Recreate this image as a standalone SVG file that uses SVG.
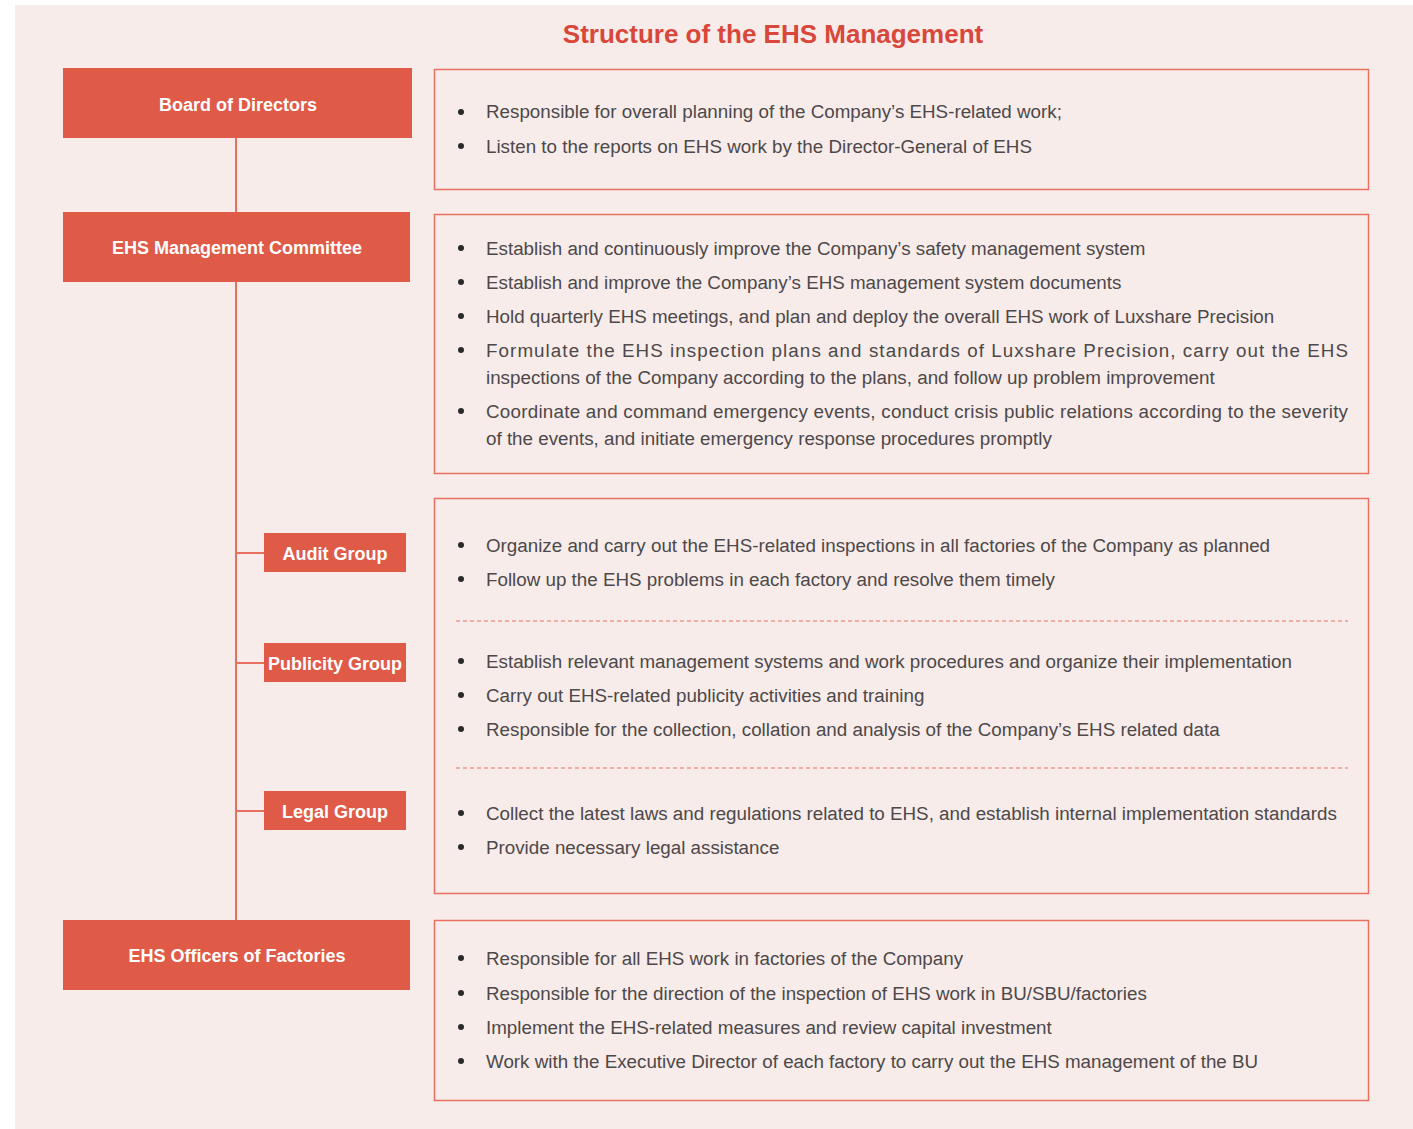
<svg xmlns="http://www.w3.org/2000/svg" width="1413" height="1129" viewBox="0 0 1413 1129">
<style>
.node{fill:#e05a48}
.nt{font-family:"Liberation Sans",Arial,sans-serif;font-size:18px;font-weight:bold;fill:#ffffff;text-anchor:middle}
.panel{fill:none;stroke:#e8705f;stroke-width:1.5}
.t{font-family:"Liberation Sans",Arial,sans-serif;font-size:18.8px;fill:#4d4849}
.b{fill:#2a2a2a}
.conn{stroke:#e8705f;stroke-width:2;fill:none}
.dash{stroke:#e8705f;stroke-width:1.2;stroke-dasharray:4 3;fill:none}
</style>
<rect x="0" y="0" width="1413" height="1129" fill="#ffffff"/>
<rect x="15" y="5" width="1398" height="1124" fill="#f7ecea"/>
<text x="773" y="43" font-family="Liberation Sans,Arial,sans-serif" font-size="26" font-weight="bold" fill="#d9473b" text-anchor="middle">Structure of the EHS Management</text>

<g id="connectors">
<line class="conn" x1="236" y1="138" x2="236" y2="920"/>
<line class="conn" x1="236" y1="553" x2="264" y2="553"/>
<line class="conn" x1="236" y1="663" x2="264" y2="663"/>
<line class="conn" x1="236" y1="811" x2="264" y2="811"/>
</g>

<g id="board">
<rect class="node" x="63" y="68" width="349" height="70"/>
<text class="nt" x="238" y="111">Board of Directors</text>
</g>
<g id="committee">
<rect class="node" x="63" y="212" width="347" height="70"/>
<text class="nt" x="237" y="254">EHS Management Committee</text>
</g>
<g id="audit">
<rect class="node" x="264" y="533" width="142" height="39"/>
<text class="nt" x="335" y="560">Audit Group</text>
</g>
<g id="publicity">
<rect class="node" x="264" y="643" width="142" height="39"/>
<text class="nt" x="335" y="670">Publicity Group</text>
</g>
<g id="legal">
<rect class="node" x="264" y="791" width="142" height="39"/>
<text class="nt" x="335" y="818">Legal Group</text>
</g>
<g id="officers">
<rect class="node" x="63" y="920" width="347" height="70"/>
<text class="nt" x="237" y="962">EHS Officers of Factories</text>
</g>

<g id="panel-board">
<rect class="panel" x="434.5" y="69.5" width="934" height="120"/>
<circle class="b" cx="461" cy="112" r="3"/>
<text class="t" x="486" y="118">Responsible for overall planning of the Company’s EHS-related work;</text>
<circle class="b" cx="461" cy="146" r="3"/>
<text class="t" x="486" y="153">Listen to the reports on EHS work by the Director-General of EHS</text>
</g>

<g id="panel-committee">
<rect class="panel" x="434.5" y="214.5" width="934" height="259"/>
<circle class="b" cx="461" cy="248" r="3"/>
<text class="t" x="486" y="255">Establish and continuously improve the Company’s safety management system</text>
<circle class="b" cx="461" cy="282" r="3"/>
<text class="t" x="486" y="289">Establish and improve the Company’s EHS management system documents</text>
<circle class="b" cx="461" cy="316" r="3"/>
<text class="t" x="486" y="323">Hold quarterly EHS meetings, and plan and deploy the overall EHS work of Luxshare Precision</text>
<circle class="b" cx="461" cy="350" r="3"/>
<text class="t" x="486" y="357" textLength="862" lengthAdjust="spacing">Formulate the EHS inspection plans and standards of Luxshare Precision, carry out the EHS</text>
<text class="t" x="486" y="384">inspections of the Company according to the plans, and follow up problem improvement</text>
<circle class="b" cx="461" cy="411" r="3"/>
<text class="t" x="486" y="418" textLength="862" lengthAdjust="spacing">Coordinate and command emergency events, conduct crisis public relations according to the severity</text>
<text class="t" x="486" y="445">of the events, and initiate emergency response procedures promptly</text>
</g>

<g id="panel-groups">
<rect class="panel" x="434.5" y="498.5" width="934" height="395"/>
<circle class="b" cx="461" cy="545" r="3"/>
<text class="t" x="486" y="552">Organize and carry out the EHS-related inspections in all factories of the Company as planned</text>
<circle class="b" cx="461" cy="579" r="3"/>
<text class="t" x="486" y="586">Follow up the EHS problems in each factory and resolve them timely</text>
<line class="dash" x1="456" y1="621" x2="1348" y2="621"/>
<circle class="b" cx="461" cy="661" r="3"/>
<text class="t" x="486" y="668">Establish relevant management systems and work procedures and organize their implementation</text>
<circle class="b" cx="461" cy="695" r="3"/>
<text class="t" x="486" y="702">Carry out EHS-related publicity activities and training</text>
<circle class="b" cx="461" cy="729" r="3"/>
<text class="t" x="486" y="736">Responsible for the collection, collation and analysis of the Company’s EHS related data</text>
<line class="dash" x1="456" y1="768" x2="1348" y2="768"/>
<circle class="b" cx="461" cy="813" r="3"/>
<text class="t" x="486" y="820">Collect the latest laws and regulations related to EHS, and establish internal implementation standards</text>
<circle class="b" cx="461" cy="847" r="3"/>
<text class="t" x="486" y="854">Provide necessary legal assistance</text>
</g>

<g id="panel-officers">
<rect class="panel" x="434.5" y="920.5" width="934" height="180"/>
<circle class="b" cx="461" cy="958" r="3"/>
<text class="t" x="486" y="965">Responsible for all EHS work in factories of the Company</text>
<circle class="b" cx="461" cy="993" r="3"/>
<text class="t" x="486" y="1000">Responsible for the direction of the inspection of EHS work in BU/SBU/factories</text>
<circle class="b" cx="461" cy="1027" r="3"/>
<text class="t" x="486" y="1034">Implement the EHS-related measures and review capital investment</text>
<circle class="b" cx="461" cy="1061" r="3"/>
<text class="t" x="486" y="1068">Work with the Executive Director of each factory to carry out the EHS management of the BU</text>
</g>
</svg>
